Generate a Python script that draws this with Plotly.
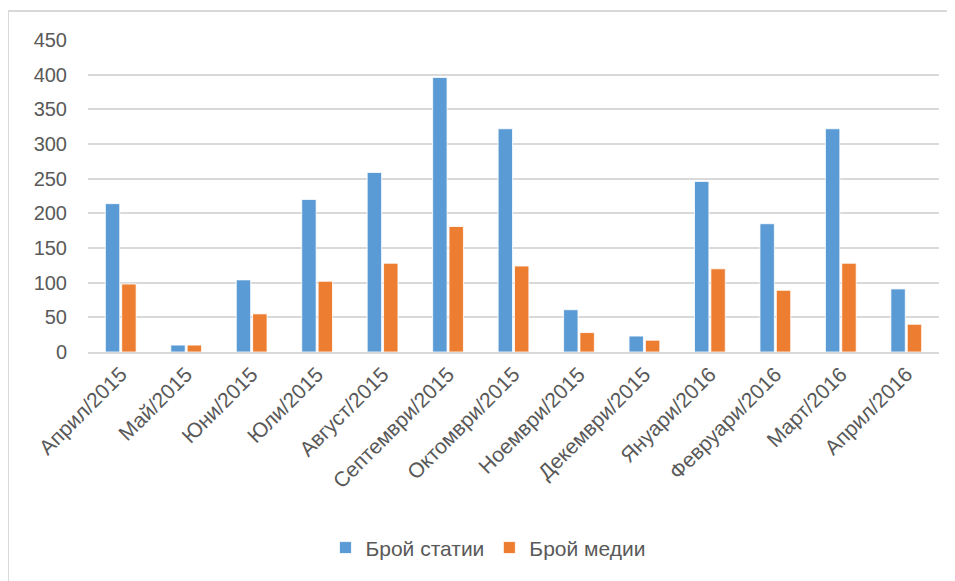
import plotly.graph_objects as go

categories = ["Април/2015", "Май/2015", "Юни/2015", "Юли/2015", "Август/2015",
              "Септември/2015", "Октомври/2015", "Ноември/2015", "Декември/2015",
              "Януари/2016", "Февруари/2016", "Март/2016", "Април/2016"]
articles = [214, 10, 104, 220, 259, 396, 322, 61, 23, 246, 185, 322, 91]
media = [98, 10, 55, 102, 128, 181, 124, 28, 17, 120, 89, 128, 40]
y_ticks = [0, 50, 100, 150, 200, 250, 300, 350, 400, 450]

FONT = "Liberation Sans"
GRAY = "#595959"

fig = go.Figure()
fig.add_trace(go.Bar(name="Брой статии", x=categories, y=articles,
                     marker=dict(color="#5B9BD5", line=dict(color="#FFFFFF", width=0.8))))
fig.add_trace(go.Bar(name="Брой медии", x=categories, y=media,
                     marker=dict(color="#ED7D31", line=dict(color="#FFFFFF", width=0.8))))

fig.update_layout(
    width=955, height=581,
    margin=dict(l=80, r=24, t=32, b=237, autoexpand=False),
    paper_bgcolor="white", plot_bgcolor="white",
    barmode="group", bargap=0.5, bargroupgap=0.12,
    font=dict(family=FONT, size=20, color=GRAY),
    showlegend=True,
    legend=dict(orientation="h", x=0.47, xanchor="center", y=-0.628, yanchor="middle",
                font=dict(family=FONT, size=21, color=GRAY), traceorder="normal"),
    xaxis=dict(tickangle=-45, showgrid=False, showline=True, linecolor="#D9D9D9",
               linewidth=1.5, tickfont=dict(family=FONT, size=21, color=GRAY)),
    yaxis=dict(range=[0, 450], tickvals=y_ticks, showgrid=True, gridcolor="#D9D9D9",
               gridwidth=1.5, zeroline=False, showline=False,
               ticklabelstandoff=20, tickfont=dict(family=FONT, size=20, color=GRAY)),
    shapes=[
        dict(type="line", xref="paper", yref="paper", x0=-0.094, x1=1.05, y0=1.093, y1=1.093,
             line=dict(color="#D9D9D9", width=2)),
        dict(type="line", xref="paper", yref="paper", x0=-0.094, x1=-0.094, y0=1.093, y1=-0.75,
             line=dict(color="#D9D9D9", width=2)),
    ],
)

fig.write_html("out.html")
